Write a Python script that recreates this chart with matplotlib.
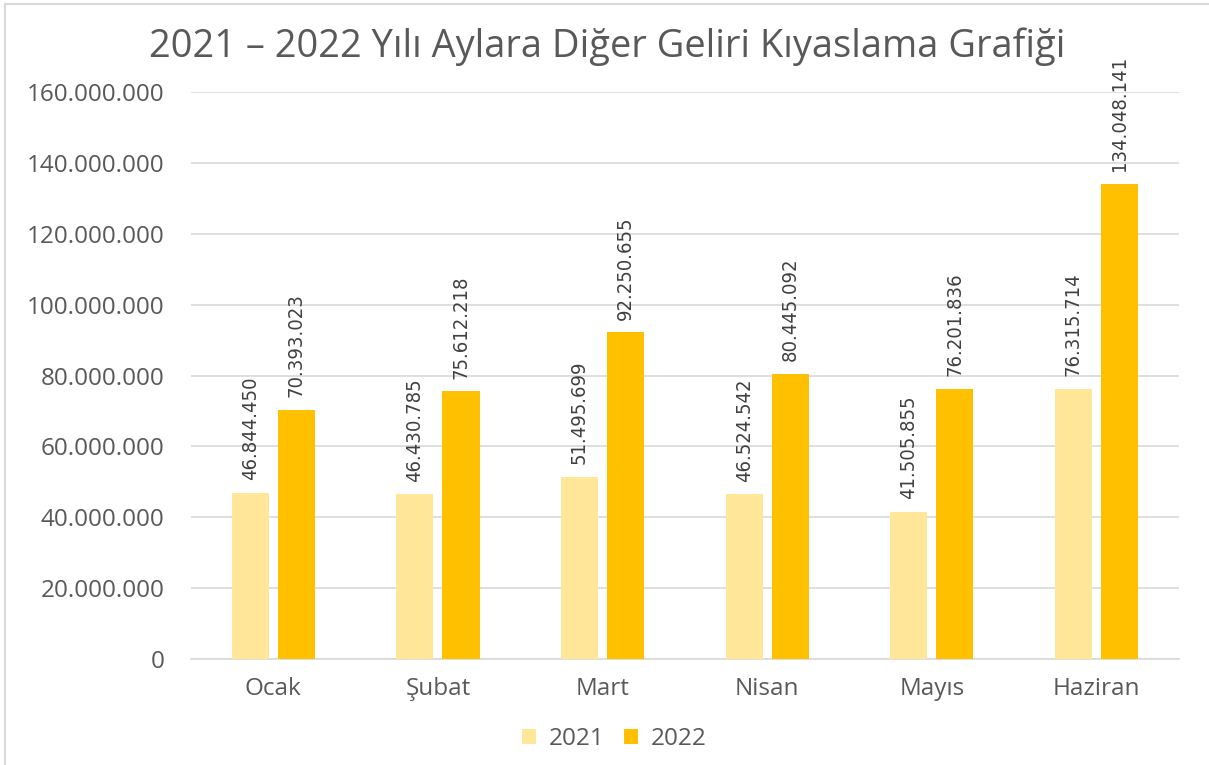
import matplotlib as mpl
mpl.use('Agg')
import matplotlib.pyplot as plt
import matplotlib.lines as lines
import matplotlib.font_manager as font_manager
import numpy as np
from matplotlib.ticker import FuncFormatter

#
#--- chart data
#
months  = ['Ocak', 'Şubat', 'Mart', 'Nisan', 'Mayıs', 'Haziran']
y2021   = [46844450, 46430785, 51495699, 46524542, 41505855, 76315714]
y2022   = [70393023, 75612218, 92250655, 80445092, 76201836, 134048141]
ticks   = [0, 20000000, 40000000, 60000000, 80000000, 100000000, 120000000, 140000000, 160000000]
title   = '2021 – 2022 Yılı Aylara Diğer Geliri Kıyaslama Grafiği'

c2021   = '#FFE699'
c2022   = '#FFC000'
tcolor  = '#595959'

def dotted(v):
    return '{:,.0f}'.format(v).replace(',', '.')

#
#--- narrow font for the data labels, if there is one
#
try:
    font_manager.findfont('Liberation Sans Narrow', fallback_to_default=False)
    lprops = dict(family='Liberation Sans Narrow', fontsize=17.5)
except Exception:
    lprops = dict(family='DejaVu Sans', fontstretch='condensed', fontsize=14.5)

plt.rcParams['font.family'] = ['Open Sans', 'DejaVu Sans']

fig = plt.figure(figsize=(12.09, 7.65), dpi=100)
#
#--- frame of the chart area: only top and left edges show in the crop
#
fig.lines.append(lines.Line2D([0.0045, 0.0045], [0.0, 0.995], transform=fig.transFigure,
                              color='#D9D9D9', lw=1.5))
fig.lines.append(lines.Line2D([0.0045, 1.0], [0.995, 0.995], transform=fig.transFigure,
                              color='#D9D9D9', lw=1.5))

ax = fig.add_axes([0.158, 0.1386, 0.817, 0.7411])

x   = np.arange(len(months))
bw  = 0.225
off = 0.14
b1 = ax.bar(x - off, y2021, width=bw, color=c2021, label='2021', zorder=3)
b2 = ax.bar(x + off, y2022, width=bw, color=c2022, label='2022', zorder=3)

for bars, vals in [(b1, y2021), (b2, y2022)]:
    for b, v in zip(bars, vals):
        ax.annotate(dotted(v), (b.get_x() + b.get_width() / 2, v), xytext=(0, 9),
                    textcoords='offset points', rotation=90, ha='center', va='bottom',
                    color='#404040', **lprops)

ax.set_xlim(-0.5, len(months) - 0.5)
ax.set_ylim(0, 160000000)
ax.set_yticks(ticks)
ax.yaxis.set_major_formatter(FuncFormatter(lambda v, p: dotted(v)))
ax.set_xticks(x)
ax.set_xticklabels(months)
ax.tick_params(axis='both', length=0, labelsize=17.5, colors=tcolor)
ax.tick_params(axis='y', pad=19)
ax.tick_params(axis='x', pad=13)

ax.grid(axis='y', color='#D9D9D9', lw=1.2, zorder=0)
for s in ['top', 'right', 'left']:
    ax.spines[s].set_visible(False)
ax.spines['bottom'].set_color('#D9D9D9')
ax.spines['bottom'].set_linewidth(1.2)

fig.text(0.502, 0.939, title, ha='center', va='center', fontsize=27.4, color=tcolor)

leg = fig.legend(loc='center', bbox_to_anchor=(0.508, 0.034), ncol=2, frameon=False,
                 fontsize=17.5, handlelength=0.6, handleheight=0.6, handletextpad=0.5,
                 columnspacing=0.8)
for t in leg.get_texts():
    t.set_color(tcolor)

plt.savefig('out.png', dpi=100)
